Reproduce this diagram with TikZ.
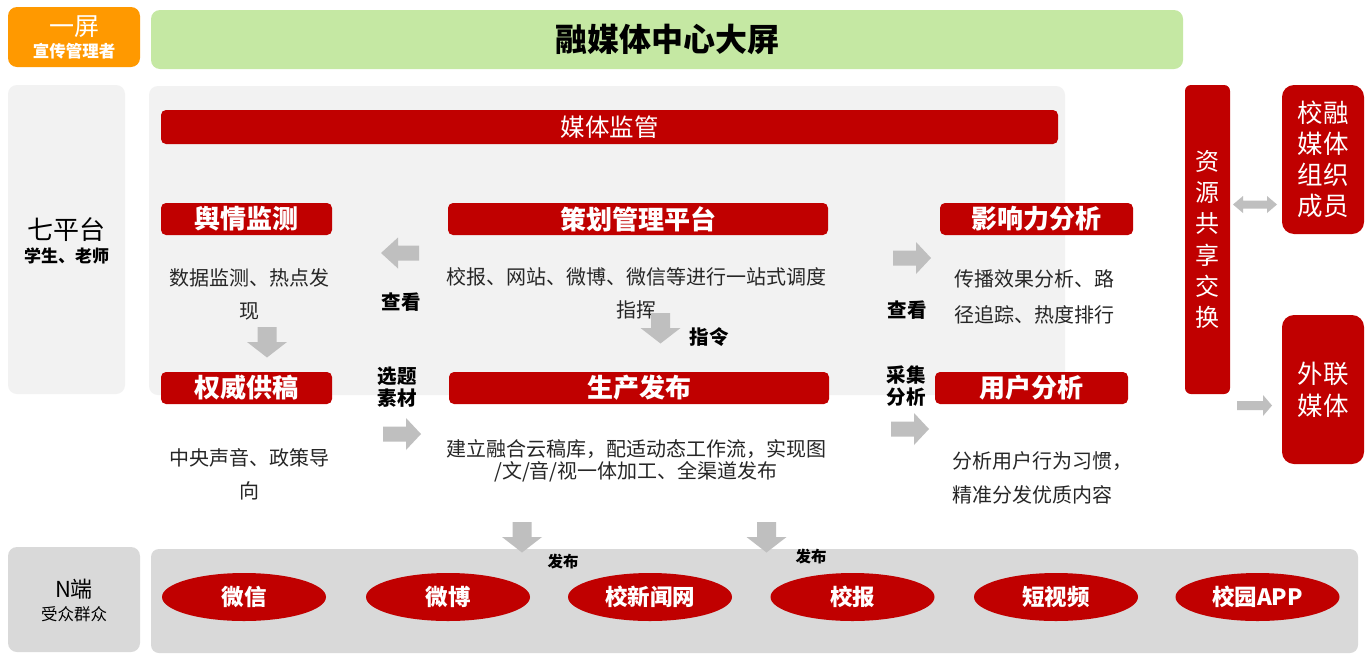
\documentclass[tikz,border=0pt]{standalone}
\usepackage{fontspec}
\setmainfont{Noto Sans CJK SC}
\usetikzlibrary{shapes.geometric}
\definecolor{myred}{HTML}{C00000}
\definecolor{arrowgray}{HTML}{BFBFBF}
\definecolor{panelgray}{HTML}{F2F2F2}
\definecolor{bottomgray}{HTML}{D9D9D9}
\definecolor{orangebox}{HTML}{FF9900}
\definecolor{greenbox}{HTML}{C5E8A3}
\definecolor{bodytext}{HTML}{262626}
\newcommand{\fs}[1]{\fontsize{#1}{#1}\selectfont}
% right-pointing block arrow, tail centre at (#1,#2)
\newcommand{\harrowR}[2]{\fill[arrowgray,shift={(#1,#2)}] (0,-7.5) -- (23,-7.5) -- (23,-16) -- (38,0) -- (23,16) -- (23,7.5) -- (0,7.5) -- cycle;}
% left-pointing block arrow, tail centre at (#1,#2)
\newcommand{\harrowL}[2]{\fill[arrowgray,shift={(#1,#2)}] (0,-7.5) -- (-21,-7.5) -- (-21,-15.5) -- (-38,0) -- (-21,15.5) -- (-21,7.5) -- (0,7.5) -- cycle;}
% down-pointing block arrow, tail centre at (#1,#2)
\newcommand{\varrowD}[2]{\fill[arrowgray,shift={(#1,#2)}] (-9.5,0) -- (9.5,0) -- (9.5,15) -- (20,15) -- (0,30.5) -- (-20,15) -- (-9.5,15) -- cycle;}
\begin{document}
\begin{tikzpicture}[x=1pt,y=-1pt,
  box/.style={draw=none, inner sep=0, outer sep=0},
  redbar/.style={box, fill=myred, rounded corners=5pt},
  bartitle/.style={redbar, text=white, font=\fs{26}\bfseries},
  body/.style={inner sep=0, text=bodytext, font=\fontsize{20}{33}\selectfont},
  lbl/.style={inner sep=0, align=center, text=black, font=\fontsize{19.5}{22}\selectfont\bfseries},
  redcol/.style={box, fill=myred, text=white, align=center},
  oval/.style={ellipse, fill=myred, draw=none, inner sep=0, minimum width=164, minimum height=48, text=white, font=\fs{22.5}\bfseries}]
\useasboundingbox (0,0) rectangle (1370,659);
\fill[white] (0,0) rectangle (1370,659);

% top row
\node[box, fill=orangebox, rounded corners=9pt, minimum width=132, minimum height=60] (screen) at (74,37) {};
\node[inner sep=0, text=white, font=\fs{25}] (screent) at (74,27) {一屏};
\node[inner sep=0, text=white, font=\fs{16.5}\bfseries] (screens) at (74,51) {宣传管理者};
\node[box, fill=greenbox, rounded corners=9pt, minimum width=1032, minimum height=59, font=\fs{32}\bfseries] (big) at (667,39.5) {融媒体中心大屏};

% left column
\node[box, fill=panelgray, rounded corners=9pt, minimum width=117, minimum height=309] (seven) at (66.5,239.5) {};
\node[inner sep=0, font=\fs{26}] (sevent) at (66.5,230) {七平台};
\node[inner sep=0, font=\fs{17}\bfseries] (sevens) at (66.5,256) {学生、老师};

\node[box, fill=bottomgray, rounded corners=9pt, minimum width=132, minimum height=105] (nend) at (74,599.5) {};
\node[inner sep=0, font=\fs{22}] (nendt) at (74,589) {N端};
\node[inner sep=0, font=\fs{16.5}] (nends) at (74,614) {受众群众};

% bottom channel panel (drawn before the arrows that overlap it)
\node[box, fill=bottomgray, rounded corners=8pt, minimum width=1207, minimum height=104] (chan) at (754.5,601) {};

% main panel
\node[box, fill=panelgray, rounded corners=9pt, minimum width=916, minimum height=309] (panel) at (607,240.5) {};
\node[redbar, minimum width=897, minimum height=34, text=white, font=\fs{24.5}] (jg) at (609.5,127) {媒体监管};

\node[bartitle, minimum width=171, minimum height=32] (yq) at (246.5,219) {舆情监测};
\node[bartitle, minimum width=380, minimum height=32] (ch) at (638,219) {策划管理平台};
\node[bartitle, minimum width=193, minimum height=32] (yx) at (1036.5,219) {影响力分析};
\node[bartitle, minimum width=171, minimum height=32] (qw) at (246.5,388) {权威供稿};
\node[bartitle, minimum width=380, minimum height=32] (sc) at (639,388) {生产发布};
\node[bartitle, minimum width=193, minimum height=32] (yh) at (1031.5,388) {用户分析};

% body texts
\node[body, align=center] (yqt) at (249,294.5) {数据监测、热点发\\现};
\node[body, align=center] (cht) at (636,293.5) {校报、网站、微博、微信等进行一站式调度\\指挥};
\node[body, align=left, anchor=west, font=\fontsize{20}{36}\selectfont] (yxt) at (954,297) {传播效果分析、路\\径追踪、热度排行};
\node[body, align=center] (qwt) at (249,474.5) {中央声音、政策导\\向};
\node[body, align=center, font=\fontsize{20}{22}\selectfont] (sct) at (636,461) {建立融合云稿库，配适动态工作流，实现图\\/文/音/视一体加工、全渠道发布};
\node[body, align=left, anchor=west, font=\fontsize{20}{34}\selectfont] (yht) at (952,478) {分析用户行为习惯，\\精准分发优质内容};

% gray arrows and their labels
\harrowL{419}{253}
\node[lbl] (ck1) at (401,302) {查看};
\varrowD{267}{327}
\harrowR{383}{434}
\node[lbl] (xt) at (397,387) {选题\\素材};
\varrowD{660.5}{313}
\node[lbl] (zl) at (709,337) {指令};
\harrowR{893}{258}
\node[lbl] (ck2) at (907,310) {查看};
\harrowR{891}{429}
\node[lbl] (cj) at (906,386) {采集\\分析};
\varrowD{522}{522}
\node[lbl, font=\fs{15.5}\bfseries] (fb1) at (563,562) {发布};
\varrowD{766.5}{522}
\node[lbl, font=\fs{15.5}\bfseries] (fb2) at (811,557) {发布};

% right side
\node[redcol, rounded corners=6pt, minimum width=45, minimum height=309, font=\fontsize{24}{31.2}\selectfont] (zy) at (1207.5,239.5) {资\\源\\共\\享\\交\\换};
\node[redcol, rounded corners=12pt, minimum width=82, minimum height=149, font=\fontsize{25.5}{31}\selectfont] (xr) at (1323,159.5) {校融\\媒体\\组织\\成员};
\node[redcol, rounded corners=12pt, minimum width=82, minimum height=149, font=\fontsize{25.5}{32}\selectfont] (wl) at (1323,389.5) {外联\\媒体};
\fill[arrowgray] (1233,204.5) -- (1243,196) -- (1243,200.5) -- (1267,200.5) -- (1267,196) -- (1277,204.5) -- (1267,213) -- (1267,208.5) -- (1243,208.5) -- (1243,213) -- cycle;
\fill[arrowgray] (1237,401) -- (1263,401) -- (1263,395) -- (1272,405.5) -- (1263,416) -- (1263,410) -- (1237,410) -- cycle;

% bottom channels
\node[oval] (wx) at (244,597) {微信};
\node[oval] (wb) at (448,597) {微博};
\node[oval] (xw) at (650,597) {校新闻网};
\node[oval] (xb) at (852.5,597) {校报};
\node[oval] (dsp) at (1056,597) {短视频};
\node[oval] (app) at (1257.5,597) {校园APP};
\end{tikzpicture}
\end{document}
